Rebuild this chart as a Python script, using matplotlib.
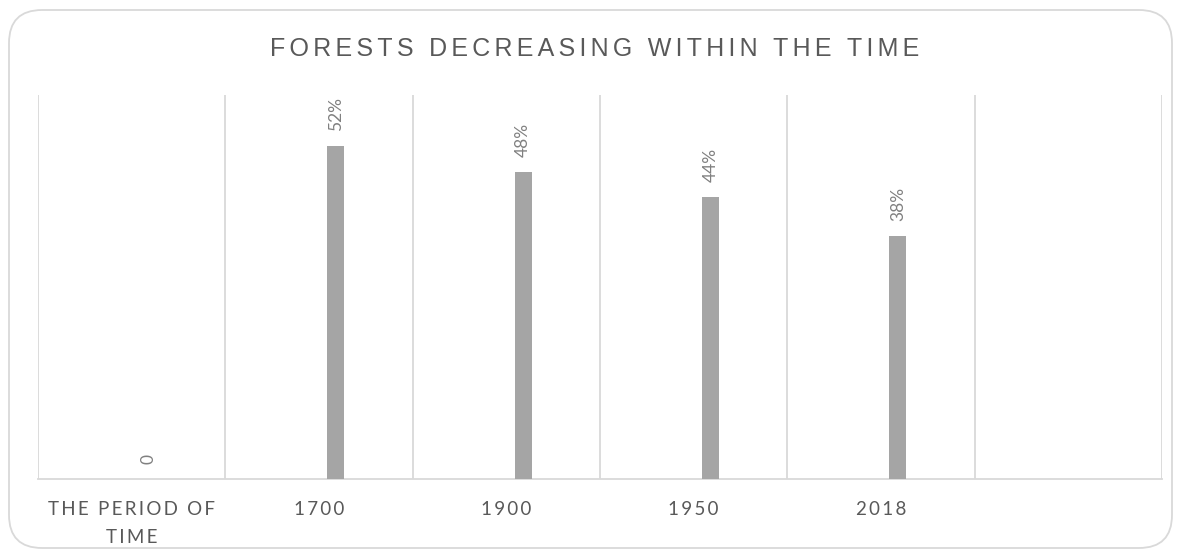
import matplotlib
matplotlib.use("Agg")
import matplotlib.pyplot as plt
from matplotlib.patches import FancyBboxPatch
import numpy as np

categories = ["THE PERIOD OF\nTIME", "1700", "1900", "1950", "2018", ""]
values = [0, 0.52, 0.48, 0.44, 0.38, np.nan]
value_labels = ["0", "52%", "48%", "44%", "38%", ""]
title = "FORESTS DECREASING WITHIN THE TIME"

HS = "\u200a"  # hair space used for letter spacing


def spaced(s, n=1):
    return "\n".join((HS * n).join(line) for line in s.split("\n"))


W, H = 1180, 555
fig = plt.figure(figsize=(W / 100, H / 100), dpi=100)
fig.patch.set_facecolor("white")
renderer = fig.canvas.get_renderer()


def fit_spacing(s, target_px, **kw):
    best, bestd = 0, 1e9
    for n in range(0, 12):
        t = fig.text(0, 0, spaced(s, n), **kw)
        w = t.get_window_extent(renderer).width
        t.remove()
        if abs(w - target_px) < bestd:
            best, bestd = n, abs(w - target_px)
    return best


# rounded chart border
border = FancyBboxPatch((9 / W, 7 / H), (1172 - 9) / W, (545 - 7) / H,
                        boxstyle="round,pad=0,rounding_size=0.028",
                        transform=fig.transFigure, facecolor="none",
                        edgecolor="#d9d9d9", linewidth=1.3, mutation_aspect=W / H)
fig.patches.append(border)

ax = fig.add_axes([38 / W, 1 - 479 / H, (1162 - 38) / W, (479 - 95) / H])
x = np.arange(len(categories))
offset = 0.09
ax.bar(x + offset, values, width=0.09, color="#a5a5a5", zorder=3)

lab_kw = dict(fontsize=12.5, family=["Lato", "DejaVu Sans"])
for xi, v, lab in zip(x, values, value_labels):
    if lab == "" or np.isnan(v):
        continue
    ax.annotate(lab, (xi + offset, v), xytext=(0, 15), textcoords="offset pixels",
                rotation=90, ha="center", va="bottom", color="#808080", **lab_kw)

ax.set_xlim(-0.5, len(categories) - 0.5)
ax.set_ylim(0, 0.6)
for b in np.arange(-0.5, len(categories), 1.0):
    ax.axvline(b, color="#d9d9d9", linewidth=1.3, zorder=1)

for s in ["top", "left", "right"]:
    ax.spines[s].set_visible(False)
ax.spines["bottom"].set_color("#d9d9d9")
ax.spines["bottom"].set_linewidth(1.3)
ax.set_yticks([])
ax.set_xticks(x)

tick_kw = dict(fontsize=13.5, family=["Lato", "DejaVu Sans"])
n_tick = fit_spacing("THE PERIOD OF", 168, **tick_kw)
ax.set_xticklabels([spaced(c, n_tick) for c in categories], color="#595959",
                   linespacing=1.75, **tick_kw)
ax.tick_params(axis="x", length=0, pad=16)

title_kw = dict(fontsize=18, family=["Liberation Sans", "DejaVu Sans"])
n_title = fit_spacing(title, 646, **title_kw)
fig.text(595 / W, 1 - 56 / H, spaced(title, n_title), ha="center", va="baseline",
         color="#595959", **title_kw)

fig.savefig("out.png", dpi=100, facecolor="white")
